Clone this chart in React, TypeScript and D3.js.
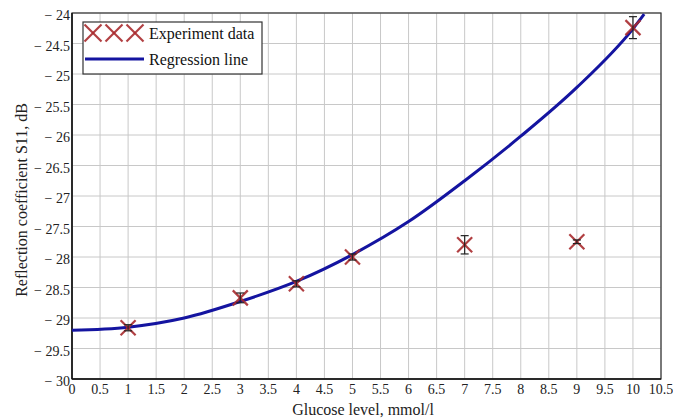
import React from "react";
import * as d3 from "d3";

const xTicks = [0, 0.5, 1, 1.5, 2, 2.5, 3, 3.5, 4, 4.5, 5, 5.5, 6, 6.5, 7, 7.5, 8, 8.5, 9, 9.5, 10, 10.5];
const yTicks = [-30, -29.5, -29, -28.5, -28, -27.5, -27, -26.5, -26, -25.5, -25, -24.5, -24];

const expX = [1, 3, 4, 5, 7, 9, 10];
const expY = [-29.16, -28.67, -28.44, -28.0, -27.8, -27.75, -24.24];
const expErr = [0.05, 0.08, 0.05, 0.05, 0.15, 0.03, 0.18];

const regX = [0, 1, 2, 3, 4, 5, 6, 7, 8, 9, 10, 10.2];
const regY = [-29.2, -29.15, -29.0, -28.73, -28.4, -27.96, -27.42, -26.75, -26.02, -25.22, -24.26, -24.02];

const W = 673, H = 418;
const m = { left: 72, right: 661, top: 13, bottom: 379 };
const serif = "Liberation Serif";

export default function App() {
  const x = d3.scaleLinear().domain([0, 10.5]).range([m.left, m.right]);
  const y = d3.scaleLinear().domain([-30, -24]).range([m.bottom, m.top]);
  const line = d3
    .line<number>()
    .x((_, i) => x(regX[i]))
    .y((d) => y(d))
    .curve(d3.curveMonotoneX);
  const red = "#a82a2e";
  const cross = (cx: number, cy: number, s: number, key: string) => (
    <g key={key} stroke={red} strokeWidth={2.2} strokeOpacity={0.9}>
      <line x1={cx - s} y1={cy - s} x2={cx + s} y2={cy + s} />
      <line x1={cx - s} y1={cy + s} x2={cx + s} y2={cy - s} />
    </g>
  );
  const fmt = (v: number) => (v < 0 ? "\u2212 " + String(Math.abs(v)) : String(v));
  return (
    <svg width={W} height={H} style={{ position: "absolute", left: 0, top: 0, background: "#fff" }}>
      <defs>
        <clipPath id="plot">
          <rect x={m.left} y={m.top} width={m.right - m.left} height={m.bottom - m.top} />
        </clipPath>
      </defs>
      {xTicks.map((t) => (
        <line key={"gx" + t} x1={x(t)} x2={x(t)} y1={m.top} y2={m.bottom} stroke="#c8c8c8" strokeWidth={1} />
      ))}
      {yTicks.map((t) => (
        <line key={"gy" + t} x1={m.left} x2={m.right} y1={y(t)} y2={y(t)} stroke="#c8c8c8" strokeWidth={1} />
      ))}
      <rect x={m.left} y={m.top} width={m.right - m.left} height={m.bottom - m.top} fill="none" stroke="#333" strokeWidth={1.2} />
      <line x1={m.left} x2={m.left} y1={m.top} y2={m.bottom} stroke="#111" strokeWidth={1.5} />
      <line x1={m.left} x2={m.right} y1={m.bottom} y2={m.bottom} stroke="#111" strokeWidth={1.5} />
      <g clipPath="url(#plot)">
        <path d={line(regY) || ""} fill="none" stroke="#1414a0" strokeWidth={3} />
        {expX.map((v, i) => {
          const cx = x(v);
          const e1 = y(expY[i] + expErr[i]);
          const e2 = y(expY[i] - expErr[i]);
          return (
            <g key={"p" + i}>
              {cross(cx, y(expY[i]), 7.5, "c" + i)}
              <g stroke="#222" strokeWidth={1.2}>
                <line x1={cx} x2={cx} y1={e1} y2={e2} />
                <line x1={cx - 4} x2={cx + 4} y1={e1} y2={e1} />
                <line x1={cx - 4} x2={cx + 4} y1={e2} y2={e2} />
              </g>
            </g>
          );
        })}
      </g>
      {yTicks.map((t) => (
        <text key={"ty" + t} x={m.left - 2} y={y(t) + 7} textAnchor="end" fontFamily={serif} fontSize={14} fill="#222">
          {fmt(t)}
        </text>
      ))}
      {xTicks.map((t) => (
        <text key={"tx" + t} x={x(t)} y={m.bottom + 15} textAnchor="middle" fontFamily={serif} fontSize={14} fill="#222">
          {fmt(t)}
        </text>
      ))}
      <text x={363} y={415} textAnchor="middle" fontFamily={serif} fontSize={16} fill="#222">
        Glucose level, mmol/l
      </text>
      <text
        transform={`translate(27, ${(m.top + m.bottom) / 2 + 4}) rotate(-90)`}
        textAnchor="middle"
        fontFamily={serif}
        fontSize={16}
        fill="#222"
      >
        Reflection coefficient S11, dB
      </text>
      <g>
        <rect x={83} y={22} width={179} height={52} fill="#fff" stroke="#333" strokeWidth={1.2} />
        {[93, 114, 135].map((cx, i) => cross(cx, 33, 8.5, "l" + i))}
        <text x={149} y={39} fontFamily={serif} fontSize={16} fill="#111">Experiment data</text>
        <line x1={85} x2={144} y1={59} y2={59} stroke="#1414a0" strokeWidth={3} />
        <text x={149} y={65} fontFamily={serif} fontSize={16} fill="#111">Regression line</text>
      </g>
    </svg>
  );
}
